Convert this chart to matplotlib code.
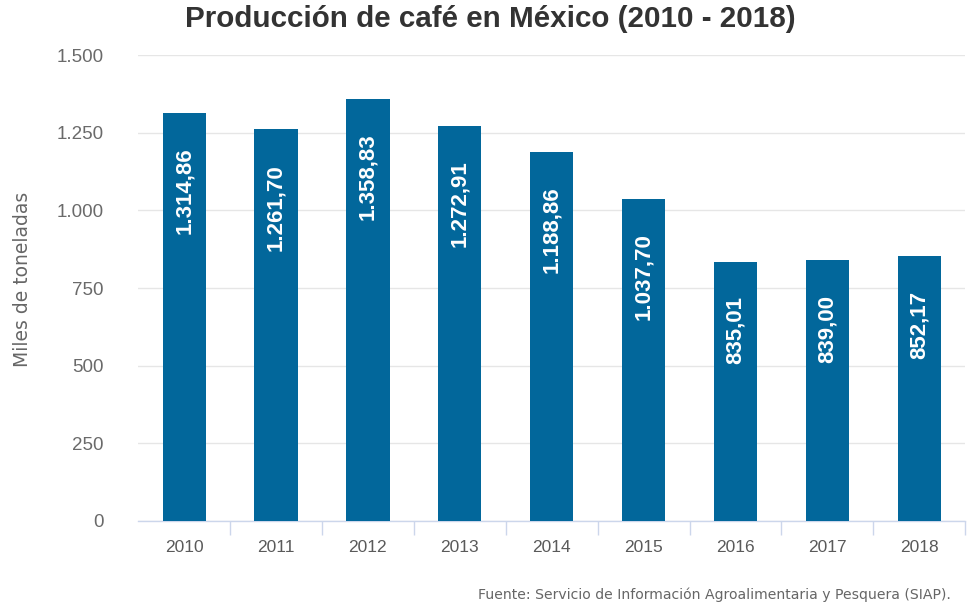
import matplotlib
matplotlib.use('Agg')
import matplotlib.pyplot as plt
import numpy as np

# datos: miles de toneladas de café (SIAP)
years = ['2010', '2011', '2012', '2013', '2014', '2015', '2016', '2017', '2018']
produccion = [1314.86, 1261.70, 1358.83, 1272.91, 1188.86, 1037.70, 835.01, 839.00, 852.17]
yticks = [0, 250, 500, 750, 1000, 1250, 1500]


def fmt_es(v, dec=2):
    # formato con punto de miles y coma decimal
    s = '{:,.{d}f}'.format(v, d=dec)
    return s.replace(',', 'X').replace('.', ',').replace('X', '.')


fig = plt.figure(figsize=(9.8, 6.07), dpi=100)
ax = fig.add_axes([0.141, 0.1417, 0.844, 0.7673])

x = np.arange(len(years))
bars = ax.bar(x, produccion, width=0.47, color='#02679b', zorder=3)

for xi, v in zip(x, produccion):
    ax.annotate(fmt_es(v), (xi, v), xytext=(0, -25), textcoords='offset points',
                rotation=90, ha='center', va='top', color='white',
                fontsize=16, fontweight='bold', family='Liberation Sans', zorder=4)

ax.set_xlim(-0.5, len(years) - 0.5)
ax.set_ylim(0, 1500)
ax.set_yticks(yticks)
ax.set_yticklabels([fmt_es(t, 0) for t in yticks], family='Liberation Sans', fontsize=13.5, color='#6a6a6a')
ax.set_xticks(x)
ax.set_xticklabels(years, family='Liberation Sans', fontsize=12.5, color='#5a5a5a')
# separadores entre categorías (sin marca en el extremo izquierdo)
ax.set_xticks(np.arange(1, len(years) + 1) - 0.5, minor=True)
ax.tick_params(axis='x', which='major', length=0, pad=14)
ax.tick_params(axis='x', which='minor', length=10, color='#ccd6eb', width=1)
ax.tick_params(axis='y', length=0, pad=25)

ax.grid(axis='y', color='#e6e6e6', linewidth=1, zorder=0)
for s in ['top', 'right', 'left']:
    ax.spines[s].set_visible(False)
ax.spines['bottom'].set_color('#ccd6eb')
ax.spines['bottom'].set_linewidth(1)

ax.set_ylabel('Miles de toneladas', family='DejaVu Sans', fontsize=13.5, color='#666666')
ax.yaxis.set_label_coords(-0.128, 0.519)

fig.text(0.5, 0.968, 'Producción de café en México (2010 - 2018)', ha='center', va='center',
         family='Liberation Sans', fontweight='bold', fontsize=21.3, color='#333333')
fig.text(0.97, 0.0198, 'Fuente: Servicio de Información Agroalimentaria y Pesquera (SIAP).',
         ha='right', va='center', family='DejaVu Sans', fontsize=10.1, color='#666666')

plt.savefig('out.png', dpi=100)
